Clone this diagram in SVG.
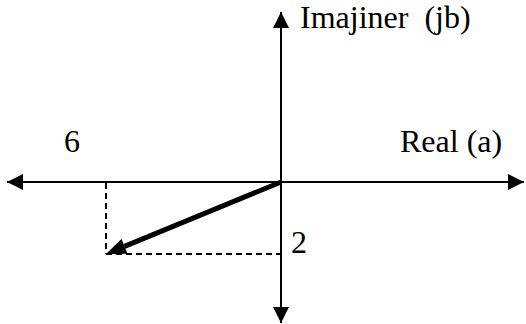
<svg xmlns="http://www.w3.org/2000/svg" width="526" height="324" viewBox="0 0 526 324">
<style>
.axis{stroke:#000;stroke-width:2;fill:none}
.dash{stroke:#000;stroke-width:2;fill:none;stroke-dasharray:6,4}
.thick{stroke:#000;stroke-width:5;fill:none}
.lbl{font-family:"Liberation Serif","Times New Roman",serif;font-size:32px;fill:#000}
</style>
<defs>
<marker id="ah" markerUnits="userSpaceOnUse" markerWidth="16" markerHeight="16" refX="16" refY="8" orient="auto" viewBox="0 0 16 16">
<path d="M0,0 L16,8 L0,16 z" fill="#000"/>
</marker>
</defs>
<rect width="526" height="324" fill="#fff"/>
<g id="connectors">
<line class="axis" x1="281" y1="182" x2="7" y2="182" marker-end="url(#ah)"/>
<line class="axis" x1="281" y1="182" x2="524" y2="182" marker-end="url(#ah)"/>
<line class="axis" x1="281" y1="182" x2="281" y2="12" marker-end="url(#ah)"/>
<line class="axis" x1="281" y1="182" x2="281" y2="323" marker-end="url(#ah)"/>
<line class="dash" x1="106" y1="183" x2="106" y2="254"/>
<line class="dash" x1="106" y1="254" x2="281" y2="254"/>
<line class="thick" x1="281" y1="182" x2="124.5" y2="246.4"/>
<polygon points="106,254 127.5,253.8 121.5,239" fill="#000"/>
</g>
<g id="label-imag"><text class="lbl" x="300" y="28" xml:space="preserve">Imajiner  (jb)</text></g>
<g id="label-real"><text class="lbl" x="400" y="152">Real (a)</text></g>
<g id="label-6"><text class="lbl" x="64" y="152">6</text></g>
<g id="label-2"><text class="lbl" x="291" y="253">2</text></g>
</svg>
